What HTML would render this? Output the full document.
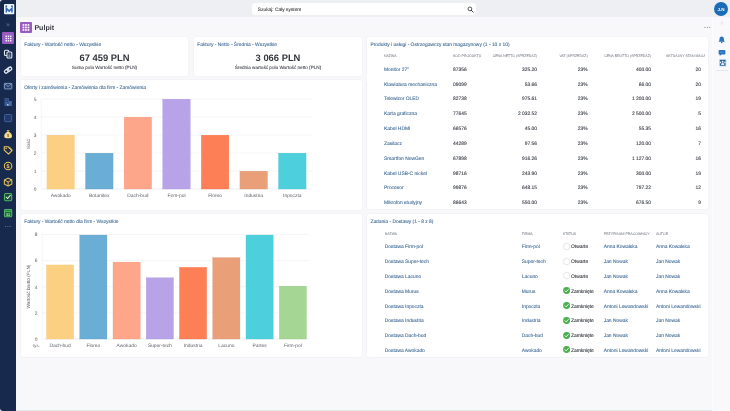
<!DOCTYPE html><html><head><meta charset="utf-8"><title>Pulpit</title><style>
*{box-sizing:border-box;margin:0;padding:0}
html,body{width:730px;height:411px;overflow:hidden;background:#f8f8fb;font-family:"Liberation Sans",sans-serif;}
body{position:relative;font-size:4.9px;color:#3a3f47;-webkit-text-size-adjust:none;text-rendering:geometricPrecision}
#root{position:absolute;left:0;top:0;width:730px;height:411px;will-change:transform;transform:translateZ(0)}
.abs{position:absolute}
.t{position:absolute;white-space:nowrap;line-height:1;}
.card{position:absolute;background:#fff;border-radius:2px;box-shadow:0 0 1.5px rgba(60,70,100,.10)}
.ttl{position:absolute;white-space:nowrap;line-height:1;color:#466f9a;font-size:4.9px}
.lnk{color:#466f9a}
.h{position:absolute;white-space:nowrap;line-height:1;color:#8a8f98;font-size:3.5px;text-transform:uppercase;letter-spacing:0}
.r{text-align:right}
svg{position:absolute;overflow:visible}
svg text{font-family:"Liberation Sans",sans-serif}
</style></head><body><div id="root">
<div class="abs" style="left:0;top:0;width:730px;height:17.2px;background:#edeff3"></div>
<div class="abs" style="left:712.3px;top:17.2px;width:17.7px;height:393.8px;background:#f9f9fc;border-left:.5px solid #fcfcfe"></div>
<div class="abs" style="left:0;top:0;width:16px;height:411px;background:#17294d;border-radius:3px 0 0 3px"></div>
<div class="abs" style="left:16px;top:410px;width:696px;height:1px;background:#e4e6eb"></div>
<div class="abs" style="left:251.5px;top:2.6px;width:224px;height:12.8px;background:#fff;border-radius:4px"></div>
<svg style="left:467px;top:5.8px" width="7" height="7" viewBox="0 0 7 7"><circle cx="2.9" cy="2.9" r="1.9" fill="none" stroke="#444" stroke-width="0.9"/><path d="M4.3 4.3 L6.2 6.2" stroke="#444" stroke-width="1" stroke-linecap="round"/></svg>
<div class="abs" style="left:713.9px;top:1.8px;width:14.2px;height:14.2px;border-radius:50%;background:#1b6cb5"></div>
<svg style="left:3.6px;top:3.6px" width="10.3" height="10.3" viewBox="0 0 10.3 10.3"><rect x="0" y="0" width="10.3" height="10.3" rx="1" fill="#eaf5fd"/><path d="M2.35 8.6V4.3L5.15 7.1L7.95 4.3V8.6" fill="none" stroke="#2f68b4" stroke-width="1.5" stroke-linejoin="miter"/><rect x="1.6" y="1.5" width="1.5" height="1.4" fill="#1f3d70"/><rect x="7.2" y="1.5" width="1.5" height="1.4" fill="#1f3d70"/></svg>
<svg style="left:5.6px;top:23.2px" width="4" height="3.4" viewBox="0 0 4 3.4"><path d="M.5 .5L1.7 1.7L.5 2.9M2.1 .5L3.3 1.7L2.1 2.9" fill="none" stroke="#8f98ae" stroke-width=".55"/></svg>
<svg style="left:19.9px;top:21.9px" width="12" height="11" viewBox="0 0 12 11"><rect width="12" height="11" rx="1" fill="#9a5cc0"/><rect x="2.6" y="2.1" width="1.7" height="1.7" fill="#fff"/><rect x="5.1" y="2.1" width="1.7" height="1.7" fill="#fff"/><rect x="7.6" y="2.1" width="1.7" height="1.7" fill="#fff"/><rect x="2.6" y="4.6" width="1.7" height="1.7" fill="#fff"/><rect x="5.1" y="4.6" width="1.7" height="1.7" fill="#fff"/><rect x="7.6" y="4.6" width="1.7" height="1.7" fill="#fff"/><rect x="2.6" y="7.1" width="1.7" height="1.7" fill="#fff"/><rect x="5.1" y="7.1" width="1.7" height="1.7" fill="#fff"/><rect x="7.6" y="7.1" width="1.7" height="1.7" fill="#fff"/></svg>
<svg style="left:703px;top:26px" width="9" height="3" viewBox="0 0 9 3"><circle cx="1.9" cy="1.4" r=".55" fill="#8a8d94"/><circle cx="4.3" cy="1.4" r=".55" fill="#8a8d94"/><circle cx="6.7" cy="1.4" r=".55" fill="#8a8d94"/></svg>
<div class="abs" style="left:2.4px;top:32.4px;width:11.2px;height:11.2px;border-radius:1.2px;background:#9a5cc0"></div>
<svg style="left:3.5px;top:33.5px" width="9" height="9" viewBox="0 0 9 9"><rect x="1.55" y="1.55" width="1.4" height="1.4" fill="#fff"/><rect x="3.8" y="1.55" width="1.4" height="1.4" fill="#fff"/><rect x="6.05" y="1.55" width="1.4" height="1.4" fill="#fff"/><rect x="1.55" y="3.8" width="1.4" height="1.4" fill="#fff"/><rect x="3.8" y="3.8" width="1.4" height="1.4" fill="#fff"/><rect x="6.05" y="3.8" width="1.4" height="1.4" fill="#fff"/><rect x="1.55" y="6.05" width="1.4" height="1.4" fill="#fff"/><rect x="3.8" y="6.05" width="1.4" height="1.4" fill="#fff"/><rect x="6.05" y="6.05" width="1.4" height="1.4" fill="#fff"/></svg>
<svg style="left:2.9000000000000004px;top:49.1px" width="10.2" height="10.2" viewBox="0 0 9 9"><rect x="1.3" y="1.1" width="3.8" height="4.6" rx=".9" fill="none" stroke="#e3e8f2" stroke-width=".95"/><rect x="3.5" y="2.6" width="4.3" height="5.4" rx=".9" fill="#17294d" stroke="#e3e8f2" stroke-width=".95"/><path d="M4.8 4.5h1.7M4.8 5.6h1.7M4.8 6.6h1.7" stroke="#e3e8f2" stroke-width=".5"/></svg>
<svg style="left:2.9000000000000004px;top:65.0px" width="10.2" height="10.2" viewBox="0 0 9 9"><g transform="rotate(-35 4.5 4.5)" fill="none" stroke="#e3e8f2" stroke-width="1.15"><rect x=".9" y="3.1" width="4.4" height="2.8" rx="1.4"/><rect x="3.7" y="3.1" width="4.4" height="2.8" rx="1.4"/></g></svg>
<svg style="left:2.9000000000000004px;top:80.9px" width="10.2" height="10.2" viewBox="0 0 9 9"><rect x="1.2" y="2.1" width="6.6" height="4.9" rx=".5" fill="#2a3f6b" stroke="#8aa6cf" stroke-width=".8"/><path d="M1.5 2.5 L4.5 4.9 L7.5 2.5" fill="none" stroke="#8aa6cf" stroke-width=".7"/></svg>
<svg style="left:2.9000000000000004px;top:96.9px" width="10.2" height="10.2" viewBox="0 0 9 9"><rect x="1.3" y="1" width="3.9" height="7" fill="#3b5c97"/><rect x="5.2" y="3.6" width="2.6" height="4.4" fill="#4567a4"/><rect x="2.1" y="2" width=".8" height=".8" fill="#1c315c"/><rect x="3.5" y="2" width=".8" height=".8" fill="#1c315c"/><rect x="2.1" y="3.6" width=".8" height=".8" fill="#1c315c"/><rect x="3.5" y="3.6" width=".8" height=".8" fill="#1c315c"/><rect x="3.6" y="6.3" width="1.3" height="1.2" fill="#cfd9ea"/></svg>
<svg style="left:2.9000000000000004px;top:112.80000000000001px" width="10.2" height="10.2" viewBox="0 0 9 9"><rect x="1.3" y="1.3" width="6.4" height="6.4" rx="1" fill="#22396b" stroke="#4866a0" stroke-width=".8"/></svg>
<svg style="left:2.9000000000000004px;top:128.70000000000002px" width="10.2" height="10.2" viewBox="0 0 9 9"><path d="M3.2 1.1h2.6l-.6 1.4h-1.4z" fill="#ecc760"/><path d="M3.5 2.7h2c1.7 1 2.6 2.6 2.4 4c-.1.9-.8 1.4-1.7 1.4H2.8c-.9 0-1.6-.5-1.7-1.4c-.2-1.4.7-3 2.4-4z" fill="#f3dc8c"/><path d="M4.5 4.3v2.7M3.8 5.1h1.1M4.1 6.3h1.1" stroke="#5d4a12" stroke-width=".55"/></svg>
<svg style="left:2.9000000000000004px;top:144.6px" width="10.2" height="10.2" viewBox="0 0 9 9"><path d="M1.1 1.5h3.3l3.5 3.5l-3 3L1.1 4.6z" fill="#3a3a3a" fill-opacity=".25" stroke="#ecc760" stroke-width=".95" stroke-linejoin="round"/><circle cx="2.8" cy="3.1" r=".65" fill="#ecc760"/><path d="M5.5 1.5l3 3.2" fill="none" stroke="#ecc760" stroke-width=".7"/></svg>
<svg style="left:2.9000000000000004px;top:160.5px" width="10.2" height="10.2" viewBox="0 0 9 9"><circle cx="4.5" cy="4.5" r="3.3" fill="#3a3520" fill-opacity=".35" stroke="#ecc760" stroke-width=".9"/><text x="4.5" y="6.2" font-size="4.8" font-weight="bold" text-anchor="middle" fill="#ecc760">$</text></svg>
<svg style="left:2.9000000000000004px;top:176.5px" width="10.2" height="10.2" viewBox="0 0 9 9"><path d="M4.5 1L7.8 2.7V6.3L4.5 8L1.2 6.3V2.7z" fill="#3a3520" fill-opacity=".3" stroke="#ecc760" stroke-width=".9" stroke-linejoin="round"/><path d="M1.4 2.8L4.5 4.4L7.6 2.8M4.5 4.4V7.8" fill="none" stroke="#ecc760" stroke-width=".8"/></svg>
<svg style="left:2.9000000000000004px;top:192.4px" width="10.2" height="10.2" viewBox="0 0 9 9"><rect x="1.3" y="1.3" width="6.4" height="6.4" rx="1.1" fill="#1d4a3c" stroke="#4db564" stroke-width=".95"/><path d="M2.8 4.5L4.1 5.8L6.4 3" fill="none" stroke="#d6efd9" stroke-width=".95" stroke-linecap="round"/></svg>
<svg style="left:2.9000000000000004px;top:208.3px" width="10.2" height="10.2" viewBox="0 0 9 9"><rect x="1.3" y="1.4" width="6.4" height="6.4" rx=".8" fill="#1f6b3a" stroke="#4db564" stroke-width=".95"/><path d="M1.3 2.9h6.4" stroke="#4db564" stroke-width="1"/><path d="M3 .8v1.2M6 .8v1.2" stroke="#4db564" stroke-width=".8"/><text x="4.5" y="6.9" font-size="3.4" font-weight="bold" text-anchor="middle" fill="#9fe0ab">31</text></svg>
<svg style="left:4px;top:225.4px" width="8" height="3" viewBox="0 0 8 3"><circle cx="1.6" cy="1.5" r=".55" fill="#7482a4"/><circle cx="3.9" cy="1.5" r=".55" fill="#7482a4"/><circle cx="6.2" cy="1.5" r=".55" fill="#7482a4"/></svg>
<svg style="left:719.6px;top:21.2px" width="3.6" height="4" viewBox="0 0 3.6 4"><path d="M.5 1.7L1.8 .5L3.1 1.7M.5 3.4L1.8 2.2L3.1 3.4" fill="none" stroke="#c9cdd6" stroke-width=".5"/></svg>
<svg style="left:718.3px;top:36.3px" width="7.4" height="7.4" viewBox="0 0 9 9"><path d="M4.5 .6c-1.7 0-2.7 1.2-2.7 2.9v1.7L.9 6.5v.6h7.2v-.6l-.9-1.3V3.5c0-1.7-1-2.9-2.7-2.9z" fill="#2b74c0"/><circle cx="4.5" cy="7.8" r=".9" fill="#2b74c0"/></svg>
<svg style="left:718px;top:48.5px" width="8" height="8" viewBox="0 0 9 9"><path d="M1.6 1.2h5.8a.9.9 0 0 1 .9.9v3.2a.9.9 0 0 1-.9.9H4l-2 1.8V6.2h-.4a.9.9 0 0 1-.9-.9V2.1a.9.9 0 0 1 .9-.9z" fill="#2b74c0"/><path d="M2.3 3.5h4.6" stroke="#a9cbee" stroke-width=".55" stroke-dasharray=".9 .5"/></svg>
<svg style="left:718.6px;top:59px" width="7.4" height="7.6" viewBox="0 0 7.4 7.6"><rect width="7.4" height="7.6" rx=".8" fill="#c5daf0"/><rect x=".9" y=".9" width="5.6" height="5.8" fill="#2a62a8"/><rect x=".9" y="2.7" width="1.2" height="1.6" fill="#eef5fc"/><rect x="5.3" y="2.7" width="1.2" height="1.6" fill="#eef5fc"/><circle cx="3.7" cy="2.7" r=".95" fill="#dfeaf7"/><path d="M2.1 6c0-1.4.7-1.9 1.6-1.9s1.6.5 1.6 1.9z" fill="#dfeaf7"/></svg>
<div class="abs" style="left:715.5px;top:70.2px;width:12px;height:.5px;background:#e6e9ee"></div>
<div class="card" style="left:21px;top:37px;width:167px;height:39px"></div>
<div class="card" style="left:194px;top:37px;width:168px;height:39px"></div>
<div class="card" style="left:21px;top:80.3px;width:341px;height:129.5px"></div>
<svg style="left:0;top:0" width="730" height="411" viewBox="0 0 730 411" text-rendering="geometricPrecision"><path d="M41.2 189.00H312" stroke="#d5d8de" stroke-width=".5"/><text x="36.6" y="190.80" font-size="4.9" text-anchor="end" fill="#5c6068">0</text><path d="M41.2 171.00H312" stroke="#e9ebef" stroke-width=".5"/><text x="36.6" y="172.80" font-size="4.9" text-anchor="end" fill="#5c6068">1</text><path d="M41.2 153.00H312" stroke="#e9ebef" stroke-width=".5"/><text x="36.6" y="154.80" font-size="4.9" text-anchor="end" fill="#5c6068">2</text><path d="M41.2 135.00H312" stroke="#e9ebef" stroke-width=".5"/><text x="36.6" y="136.80" font-size="4.9" text-anchor="end" fill="#5c6068">3</text><path d="M41.2 117.00H312" stroke="#e9ebef" stroke-width=".5"/><text x="36.6" y="118.80" font-size="4.9" text-anchor="end" fill="#5c6068">4</text><path d="M41.2 99.00H312" stroke="#e9ebef" stroke-width=".5"/><text x="36.6" y="100.80" font-size="4.9" text-anchor="end" fill="#5c6068">5</text><path d="M41.2 99.00V189" stroke="#e6e8ec" stroke-width=".5"/><rect x="46.95" y="135.15" width="27.5" height="53.85" fill="#fcd083" stroke="#f3c06a" stroke-width=".3"/><text x="60.70" y="196.90" font-size="4.9" text-anchor="middle" fill="#5c6068">Awokado</text><rect x="85.55" y="153.15" width="27.5" height="35.85" fill="#6aaed6" stroke="#5a9cc6" stroke-width=".3"/><text x="99.30" y="196.90" font-size="4.9" text-anchor="middle" fill="#5c6068">Botanitex</text><rect x="124.15" y="117.15" width="27.5" height="71.85" fill="#fda68a" stroke="#f59478" stroke-width=".3"/><text x="137.90" y="196.90" font-size="4.9" text-anchor="middle" fill="#5c6068">Dach-bud</text><rect x="162.75" y="99.15" width="27.5" height="89.85" fill="#b9a3e8" stroke="#a892de" stroke-width=".3"/><text x="176.50" y="196.90" font-size="4.9" text-anchor="middle" fill="#5c6068">Firm-pol</text><rect x="201.35" y="135.15" width="27.5" height="53.85" fill="#fd7f56" stroke="#f26e44" stroke-width=".3"/><text x="215.10" y="196.90" font-size="4.9" text-anchor="middle" fill="#5c6068">Floreo</text><rect x="239.95" y="171.15" width="27.5" height="17.85" fill="#e9a078" stroke="#dc9068" stroke-width=".3"/><text x="253.70" y="196.90" font-size="4.9" text-anchor="middle" fill="#5c6068">Industria</text><rect x="278.55" y="153.15" width="27.5" height="35.85" fill="#4dd0db" stroke="#3cc2ce" stroke-width=".3"/><text x="292.30" y="196.90" font-size="4.9" text-anchor="middle" fill="#5c6068">Inpoczta</text><text transform="translate(30.4 144) rotate(-90)" font-size="4.7" text-anchor="middle" fill="#5c6068">Ilość</text></svg>
<div class="card" style="left:21px;top:214.2px;width:341px;height:142.8px"></div>
<svg style="left:0;top:0" width="730" height="411" viewBox="0 0 730 411" text-rendering="geometricPrecision"><path d="M42.2 339.00H309" stroke="#d5d8de" stroke-width=".5"/><text x="37.6" y="340.80" font-size="4.9" text-anchor="end" fill="#5c6068">0</text><path d="M42.2 312.88H309" stroke="#e9ebef" stroke-width=".5"/><text x="37.6" y="314.68" font-size="4.9" text-anchor="end" fill="#5c6068">2</text><path d="M42.2 286.76H309" stroke="#e9ebef" stroke-width=".5"/><text x="37.6" y="288.56" font-size="4.9" text-anchor="end" fill="#5c6068">4</text><path d="M42.2 260.64H309" stroke="#e9ebef" stroke-width=".5"/><text x="37.6" y="262.44" font-size="4.9" text-anchor="end" fill="#5c6068">6</text><path d="M42.2 234.52H309" stroke="#e9ebef" stroke-width=".5"/><text x="37.6" y="236.32" font-size="4.9" text-anchor="end" fill="#5c6068">8</text><path d="M42.2 234.52V339" stroke="#e6e8ec" stroke-width=".5"/><rect x="46.50" y="264.97" width="27.2" height="74.03" fill="#fcd083" stroke="#f3c06a" stroke-width=".3"/><text x="60.10" y="346.90" font-size="4.9" text-anchor="middle" fill="#5c6068">Dach-bud</text><rect x="79.75" y="235.06" width="27.2" height="103.94" fill="#6aaed6" stroke="#5a9cc6" stroke-width=".3"/><text x="93.35" y="346.90" font-size="4.9" text-anchor="middle" fill="#5c6068">Floreo</text><rect x="113.00" y="262.10" width="27.2" height="76.90" fill="#fda68a" stroke="#f59478" stroke-width=".3"/><text x="126.60" y="346.90" font-size="4.9" text-anchor="middle" fill="#5c6068">Awokado</text><rect x="146.25" y="277.77" width="27.2" height="61.23" fill="#b9a3e8" stroke="#a892de" stroke-width=".3"/><text x="159.85" y="346.90" font-size="4.9" text-anchor="middle" fill="#5c6068">Super-tech</text><rect x="179.50" y="267.32" width="27.2" height="71.68" fill="#fd7f56" stroke="#f26e44" stroke-width=".3"/><text x="193.10" y="346.90" font-size="4.9" text-anchor="middle" fill="#5c6068">Industria</text><rect x="212.75" y="257.66" width="27.2" height="81.34" fill="#e9a078" stroke="#dc9068" stroke-width=".3"/><text x="226.35" y="346.90" font-size="4.9" text-anchor="middle" fill="#5c6068">Lacuno</text><rect x="246.00" y="235.06" width="27.2" height="103.94" fill="#4dd0db" stroke="#3cc2ce" stroke-width=".3"/><text x="259.60" y="346.90" font-size="4.9" text-anchor="middle" fill="#5c6068">Partes</text><rect x="279.25" y="286.13" width="27.2" height="52.87" fill="#a5d693" stroke="#93c980" stroke-width=".3"/><text x="292.85" y="346.90" font-size="4.9" text-anchor="middle" fill="#5c6068">Firm-pol</text><text transform="translate(29.8 286.5) rotate(-90)" font-size="4.7" text-anchor="middle" fill="#5c6068">Wartość brutto (PLN)</text><text x="36.4" y="346.9" font-size="4.2" text-anchor="middle" fill="#5c6068">tys.</text></svg>
<div class="card" style="left:367px;top:37px;width:341px;height:172.3px;overflow:hidden"></div>
<svg style="left:666.3px;top:51.5px;overflow:hidden" width="38.8" height="8" viewBox="0 0 38.8 8" text-rendering="geometricPrecision"><text x="0" y="5.26" font-size="3.5" fill="#8a8f98" stroke="#8a8f98" stroke-width="0.077">AKTUALNY STAN MAGAZYNOWY</text></svg>
<div class="card" style="left:367px;top:214.2px;width:341px;height:142.8px"></div>
<svg style="left:562.6px;top:242.80px" width="7.2" height="7.2" viewBox="0 0 7.2 7.2"><circle cx="3.6" cy="3.6" r="3.2" fill="#fff" stroke="#c9ccd2" stroke-width=".5"/></svg>
<svg style="left:562.6px;top:257.60px" width="7.2" height="7.2" viewBox="0 0 7.2 7.2"><circle cx="3.6" cy="3.6" r="3.2" fill="#fff" stroke="#c9ccd2" stroke-width=".5"/></svg>
<svg style="left:562.6px;top:272.40px" width="7.2" height="7.2" viewBox="0 0 7.2 7.2"><circle cx="3.6" cy="3.6" r="3.2" fill="#fff" stroke="#c9ccd2" stroke-width=".5"/></svg>
<svg style="left:562.6px;top:287.20px" width="7.2" height="7.2" viewBox="0 0 7.2 7.2"><circle cx="3.6" cy="3.6" r="3.5" fill="#4caf50"/><path d="M2 3.7L3.2 4.9L5.3 2.5" fill="none" stroke="#fff" stroke-width=".9" stroke-linecap="round" stroke-linejoin="round"/></svg>
<svg style="left:562.6px;top:302.00px" width="7.2" height="7.2" viewBox="0 0 7.2 7.2"><circle cx="3.6" cy="3.6" r="3.5" fill="#4caf50"/><path d="M2 3.7L3.2 4.9L5.3 2.5" fill="none" stroke="#fff" stroke-width=".9" stroke-linecap="round" stroke-linejoin="round"/></svg>
<svg style="left:562.6px;top:316.80px" width="7.2" height="7.2" viewBox="0 0 7.2 7.2"><circle cx="3.6" cy="3.6" r="3.5" fill="#4caf50"/><path d="M2 3.7L3.2 4.9L5.3 2.5" fill="none" stroke="#fff" stroke-width=".9" stroke-linecap="round" stroke-linejoin="round"/></svg>
<svg style="left:562.6px;top:331.60px" width="7.2" height="7.2" viewBox="0 0 7.2 7.2"><circle cx="3.6" cy="3.6" r="3.5" fill="#4caf50"/><path d="M2 3.7L3.2 4.9L5.3 2.5" fill="none" stroke="#fff" stroke-width=".9" stroke-linecap="round" stroke-linejoin="round"/></svg>
<svg style="left:562.6px;top:346.40px" width="7.2" height="7.2" viewBox="0 0 7.2 7.2"><circle cx="3.6" cy="3.6" r="3.5" fill="#4caf50"/><path d="M2 3.7L3.2 4.9L5.3 2.5" fill="none" stroke="#fff" stroke-width=".9" stroke-linecap="round" stroke-linejoin="round"/></svg>
<svg style="left:0;top:0" width="730" height="411" viewBox="0 0 730 411" text-rendering="geometricPrecision"><text x="257.80" y="10.84" font-size="4.85" fill="#444" stroke="#444" stroke-width="0.107">Szukaj: Cały system</text><text x="721.00" y="10.52" font-size="4.5" fill="#fff" font-weight="bold" text-anchor="middle">J.N</text><text x="34.40" y="29.76" font-size="7.1" fill="#3a3d44" font-weight="bold">Pulpit</text><text x="24.20" y="45.86" font-size="4.9" fill="#466f9a" stroke="#466f9a" stroke-width="0.108">Faktury - Wartość netto - Wszystkie</text><text x="104.50" y="61.48" font-size="9.4" fill="#33363c" font-weight="bold" text-anchor="middle">67 459 PLN</text><text x="104.50" y="69.36" font-size="4.65" fill="#4a4e56" stroke="#4a4e56" stroke-width="0.102" text-anchor="middle">Suma pola Wartość netto (PLN)</text><text x="197.20" y="45.86" font-size="4.9" fill="#466f9a" stroke="#466f9a" stroke-width="0.108">Faktury - Netto - Średnia - Wszystkie</text><text x="278.00" y="61.48" font-size="9.4" fill="#33363c" font-weight="bold" text-anchor="middle">3 066 PLN</text><text x="278.00" y="69.36" font-size="4.65" fill="#4a4e56" stroke="#4a4e56" stroke-width="0.102" text-anchor="middle">Średnia wartość pola Wartość netto (PLN)</text><text x="24.20" y="89.46" font-size="4.9" fill="#466f9a" stroke="#466f9a" stroke-width="0.108">Oferty i zamówienia - Zamówienia dla firm - Zamówienia</text><text x="24.20" y="223.26" font-size="4.9" fill="#466f9a" stroke="#466f9a" stroke-width="0.108">Faktury - Wartość netto dla firm - Wszystkie</text><text x="370.40" y="46.06" font-size="4.9" fill="#466f9a" stroke="#466f9a" stroke-width="0.108">Produkty i usługi - Ostrzegawczy stan magazynowy (1 - 10 z 10)</text><text x="384.00" y="56.76" font-size="3.5" fill="#8a8f98" stroke="#8a8f98" stroke-width="0.077">NAZWA</text><text x="453.00" y="56.76" font-size="3.5" fill="#8a8f98" stroke="#8a8f98" stroke-width="0.077">KOD PRODUKTU</text><text x="537.00" y="56.76" font-size="3.5" fill="#8a8f98" stroke="#8a8f98" stroke-width="0.077" text-anchor="end">CENA NETTO (SPRZEDAŻ)</text><text x="587.60" y="56.76" font-size="3.5" fill="#8a8f98" stroke="#8a8f98" stroke-width="0.077" text-anchor="end">VAT (SPRZEDAŻ)</text><text x="651.00" y="56.76" font-size="3.5" fill="#8a8f98" stroke="#8a8f98" stroke-width="0.077" text-anchor="end">CENA BRUTTO (SPRZEDAŻ)</text><text x="384.00" y="70.76" font-size="4.9" fill="#466f9a" stroke="#466f9a" stroke-width="0.108">Monitor 27"</text><text x="453.00" y="70.76" font-size="4.9" fill="#3a3f47" stroke="#3a3f47" stroke-width="0.108">87356</text><text x="537.00" y="70.76" font-size="4.9" fill="#3a3f47" stroke="#3a3f47" stroke-width="0.108" text-anchor="end">325.20</text><text x="587.60" y="70.76" font-size="4.9" fill="#3a3f47" stroke="#3a3f47" stroke-width="0.108" text-anchor="end">23%</text><text x="651.00" y="70.76" font-size="4.9" fill="#3a3f47" stroke="#3a3f47" stroke-width="0.108" text-anchor="end">400.00</text><text x="701.00" y="70.76" font-size="4.9" fill="#3a3f47" stroke="#3a3f47" stroke-width="0.108" text-anchor="end">20</text><text x="384.00" y="85.59" font-size="4.9" fill="#466f9a" stroke="#466f9a" stroke-width="0.108">Klawiatura mechaniczna</text><text x="453.00" y="85.59" font-size="4.9" fill="#3a3f47" stroke="#3a3f47" stroke-width="0.108">09099</text><text x="537.00" y="85.59" font-size="4.9" fill="#3a3f47" stroke="#3a3f47" stroke-width="0.108" text-anchor="end">53.66</text><text x="587.60" y="85.59" font-size="4.9" fill="#3a3f47" stroke="#3a3f47" stroke-width="0.108" text-anchor="end">23%</text><text x="651.00" y="85.59" font-size="4.9" fill="#3a3f47" stroke="#3a3f47" stroke-width="0.108" text-anchor="end">66.00</text><text x="701.00" y="85.59" font-size="4.9" fill="#3a3f47" stroke="#3a3f47" stroke-width="0.108" text-anchor="end">20</text><text x="384.00" y="100.42" font-size="4.9" fill="#466f9a" stroke="#466f9a" stroke-width="0.108">Telewizor OLED</text><text x="453.00" y="100.42" font-size="4.9" fill="#3a3f47" stroke="#3a3f47" stroke-width="0.108">82738</text><text x="537.00" y="100.42" font-size="4.9" fill="#3a3f47" stroke="#3a3f47" stroke-width="0.108" text-anchor="end">975.61</text><text x="587.60" y="100.42" font-size="4.9" fill="#3a3f47" stroke="#3a3f47" stroke-width="0.108" text-anchor="end">23%</text><text x="651.00" y="100.42" font-size="4.9" fill="#3a3f47" stroke="#3a3f47" stroke-width="0.108" text-anchor="end">1 200.00</text><text x="701.00" y="100.42" font-size="4.9" fill="#3a3f47" stroke="#3a3f47" stroke-width="0.108" text-anchor="end">19</text><text x="384.00" y="115.25" font-size="4.9" fill="#466f9a" stroke="#466f9a" stroke-width="0.108">Karta graficzna</text><text x="453.00" y="115.25" font-size="4.9" fill="#3a3f47" stroke="#3a3f47" stroke-width="0.108">77645</text><text x="537.00" y="115.25" font-size="4.9" fill="#3a3f47" stroke="#3a3f47" stroke-width="0.108" text-anchor="end">2 032.52</text><text x="587.60" y="115.25" font-size="4.9" fill="#3a3f47" stroke="#3a3f47" stroke-width="0.108" text-anchor="end">23%</text><text x="651.00" y="115.25" font-size="4.9" fill="#3a3f47" stroke="#3a3f47" stroke-width="0.108" text-anchor="end">2 500.00</text><text x="701.00" y="115.25" font-size="4.9" fill="#3a3f47" stroke="#3a3f47" stroke-width="0.108" text-anchor="end">5</text><text x="384.00" y="130.08" font-size="4.9" fill="#466f9a" stroke="#466f9a" stroke-width="0.108">Kabel HDMI</text><text x="453.00" y="130.08" font-size="4.9" fill="#3a3f47" stroke="#3a3f47" stroke-width="0.108">66576</text><text x="537.00" y="130.08" font-size="4.9" fill="#3a3f47" stroke="#3a3f47" stroke-width="0.108" text-anchor="end">45.00</text><text x="587.60" y="130.08" font-size="4.9" fill="#3a3f47" stroke="#3a3f47" stroke-width="0.108" text-anchor="end">23%</text><text x="651.00" y="130.08" font-size="4.9" fill="#3a3f47" stroke="#3a3f47" stroke-width="0.108" text-anchor="end">55.35</text><text x="701.00" y="130.08" font-size="4.9" fill="#3a3f47" stroke="#3a3f47" stroke-width="0.108" text-anchor="end">16</text><text x="384.00" y="144.91" font-size="4.9" fill="#466f9a" stroke="#466f9a" stroke-width="0.108">Zasilacz</text><text x="453.00" y="144.91" font-size="4.9" fill="#3a3f47" stroke="#3a3f47" stroke-width="0.108">44289</text><text x="537.00" y="144.91" font-size="4.9" fill="#3a3f47" stroke="#3a3f47" stroke-width="0.108" text-anchor="end">97.56</text><text x="587.60" y="144.91" font-size="4.9" fill="#3a3f47" stroke="#3a3f47" stroke-width="0.108" text-anchor="end">23%</text><text x="651.00" y="144.91" font-size="4.9" fill="#3a3f47" stroke="#3a3f47" stroke-width="0.108" text-anchor="end">120.00</text><text x="701.00" y="144.91" font-size="4.9" fill="#3a3f47" stroke="#3a3f47" stroke-width="0.108" text-anchor="end">7</text><text x="384.00" y="159.74" font-size="4.9" fill="#466f9a" stroke="#466f9a" stroke-width="0.108">Smartfon NowGen</text><text x="453.00" y="159.74" font-size="4.9" fill="#3a3f47" stroke="#3a3f47" stroke-width="0.108">67898</text><text x="537.00" y="159.74" font-size="4.9" fill="#3a3f47" stroke="#3a3f47" stroke-width="0.108" text-anchor="end">916.26</text><text x="587.60" y="159.74" font-size="4.9" fill="#3a3f47" stroke="#3a3f47" stroke-width="0.108" text-anchor="end">23%</text><text x="651.00" y="159.74" font-size="4.9" fill="#3a3f47" stroke="#3a3f47" stroke-width="0.108" text-anchor="end">1 127.00</text><text x="701.00" y="159.74" font-size="4.9" fill="#3a3f47" stroke="#3a3f47" stroke-width="0.108" text-anchor="end">16</text><text x="384.00" y="174.57" font-size="4.9" fill="#466f9a" stroke="#466f9a" stroke-width="0.108">Kabel USB-C nickel</text><text x="453.00" y="174.57" font-size="4.9" fill="#3a3f47" stroke="#3a3f47" stroke-width="0.108">98716</text><text x="537.00" y="174.57" font-size="4.9" fill="#3a3f47" stroke="#3a3f47" stroke-width="0.108" text-anchor="end">243.90</text><text x="587.60" y="174.57" font-size="4.9" fill="#3a3f47" stroke="#3a3f47" stroke-width="0.108" text-anchor="end">23%</text><text x="651.00" y="174.57" font-size="4.9" fill="#3a3f47" stroke="#3a3f47" stroke-width="0.108" text-anchor="end">300.00</text><text x="701.00" y="174.57" font-size="4.9" fill="#3a3f47" stroke="#3a3f47" stroke-width="0.108" text-anchor="end">19</text><text x="384.00" y="189.40" font-size="4.9" fill="#466f9a" stroke="#466f9a" stroke-width="0.108">Procesor</text><text x="453.00" y="189.40" font-size="4.9" fill="#3a3f47" stroke="#3a3f47" stroke-width="0.108">99876</text><text x="537.00" y="189.40" font-size="4.9" fill="#3a3f47" stroke="#3a3f47" stroke-width="0.108" text-anchor="end">648.15</text><text x="587.60" y="189.40" font-size="4.9" fill="#3a3f47" stroke="#3a3f47" stroke-width="0.108" text-anchor="end">23%</text><text x="651.00" y="189.40" font-size="4.9" fill="#3a3f47" stroke="#3a3f47" stroke-width="0.108" text-anchor="end">797.22</text><text x="701.00" y="189.40" font-size="4.9" fill="#3a3f47" stroke="#3a3f47" stroke-width="0.108" text-anchor="end">12</text><text x="384.00" y="204.23" font-size="4.9" fill="#466f9a" stroke="#466f9a" stroke-width="0.108">Mikrofon studyjny</text><text x="453.00" y="204.23" font-size="4.9" fill="#3a3f47" stroke="#3a3f47" stroke-width="0.108">86643</text><text x="537.00" y="204.23" font-size="4.9" fill="#3a3f47" stroke="#3a3f47" stroke-width="0.108" text-anchor="end">550.00</text><text x="587.60" y="204.23" font-size="4.9" fill="#3a3f47" stroke="#3a3f47" stroke-width="0.108" text-anchor="end">23%</text><text x="651.00" y="204.23" font-size="4.9" fill="#3a3f47" stroke="#3a3f47" stroke-width="0.108" text-anchor="end">676.50</text><text x="701.00" y="204.23" font-size="4.9" fill="#3a3f47" stroke="#3a3f47" stroke-width="0.108" text-anchor="end">9</text><text x="370.40" y="223.26" font-size="4.9" fill="#466f9a" stroke="#466f9a" stroke-width="0.108">Zadania - Dostawy (1 - 8 z 8)</text><text x="384.70" y="235.16" font-size="3.5" fill="#8a8f98" stroke="#8a8f98" stroke-width="0.077">NAZWA</text><text x="521.80" y="235.16" font-size="3.5" fill="#8a8f98" stroke="#8a8f98" stroke-width="0.077">FIRMA</text><text x="562.80" y="235.16" font-size="3.5" fill="#8a8f98" stroke="#8a8f98" stroke-width="0.077">STATUS</text><text x="603.70" y="235.16" font-size="3.5" fill="#8a8f98" stroke="#8a8f98" stroke-width="0.077">PRZYPISANI PRACOWNICY</text><text x="656.00" y="235.16" font-size="3.5" fill="#8a8f98" stroke="#8a8f98" stroke-width="0.077">AUTOR</text><text x="384.70" y="248.46" font-size="4.9" fill="#466f9a" stroke="#466f9a" stroke-width="0.108">Dostawa Firm-pol</text><text x="521.80" y="248.46" font-size="4.9" fill="#466f9a" stroke="#466f9a" stroke-width="0.108">Firm-pol</text><text x="571.00" y="248.46" font-size="4.9" fill="#33363c" stroke="#33363c" stroke-width="0.108">Otwarte</text><text x="603.70" y="248.46" font-size="4.9" fill="#466f9a" stroke="#466f9a" stroke-width="0.108">Anna Kowalska</text><text x="656.00" y="248.46" font-size="4.9" fill="#466f9a" stroke="#466f9a" stroke-width="0.108">Anna Kowalska</text><text x="384.70" y="263.26" font-size="4.9" fill="#466f9a" stroke="#466f9a" stroke-width="0.108">Dostawa Super-tech</text><text x="521.80" y="263.26" font-size="4.9" fill="#466f9a" stroke="#466f9a" stroke-width="0.108">Super-tech</text><text x="571.00" y="263.26" font-size="4.9" fill="#33363c" stroke="#33363c" stroke-width="0.108">Otwarte</text><text x="603.70" y="263.26" font-size="4.9" fill="#466f9a" stroke="#466f9a" stroke-width="0.108">Jan Nowak</text><text x="656.00" y="263.26" font-size="4.9" fill="#466f9a" stroke="#466f9a" stroke-width="0.108">Jan Nowak</text><text x="384.70" y="278.06" font-size="4.9" fill="#466f9a" stroke="#466f9a" stroke-width="0.108">Dostawa Lacuno</text><text x="521.80" y="278.06" font-size="4.9" fill="#466f9a" stroke="#466f9a" stroke-width="0.108">Lacuno</text><text x="571.00" y="278.06" font-size="4.9" fill="#33363c" stroke="#33363c" stroke-width="0.108">Otwarte</text><text x="603.70" y="278.06" font-size="4.9" fill="#466f9a" stroke="#466f9a" stroke-width="0.108">Jan Nowak</text><text x="656.00" y="278.06" font-size="4.9" fill="#466f9a" stroke="#466f9a" stroke-width="0.108">Jan Nowak</text><text x="384.70" y="292.86" font-size="4.9" fill="#466f9a" stroke="#466f9a" stroke-width="0.108">Dostawa Murus</text><text x="521.80" y="292.86" font-size="4.9" fill="#466f9a" stroke="#466f9a" stroke-width="0.108">Murus</text><text x="571.00" y="292.86" font-size="4.9" fill="#33363c" stroke="#33363c" stroke-width="0.108">Zamknięte</text><text x="603.70" y="292.86" font-size="4.9" fill="#466f9a" stroke="#466f9a" stroke-width="0.108">Anna Kowalska</text><text x="656.00" y="292.86" font-size="4.9" fill="#466f9a" stroke="#466f9a" stroke-width="0.108">Anna Kowalska</text><text x="384.70" y="307.66" font-size="4.9" fill="#466f9a" stroke="#466f9a" stroke-width="0.108">Dostawa Inpoczta</text><text x="521.80" y="307.66" font-size="4.9" fill="#466f9a" stroke="#466f9a" stroke-width="0.108">Inpoczta</text><text x="571.00" y="307.66" font-size="4.9" fill="#33363c" stroke="#33363c" stroke-width="0.108">Zamknięte</text><text x="603.70" y="307.66" font-size="4.9" fill="#466f9a" stroke="#466f9a" stroke-width="0.108">Antoni Lewandowski</text><text x="656.00" y="307.66" font-size="4.9" fill="#466f9a" stroke="#466f9a" stroke-width="0.108">Antoni Lewandowski</text><text x="384.70" y="322.46" font-size="4.9" fill="#466f9a" stroke="#466f9a" stroke-width="0.108">Dostawa Industria</text><text x="521.80" y="322.46" font-size="4.9" fill="#466f9a" stroke="#466f9a" stroke-width="0.108">Industria</text><text x="571.00" y="322.46" font-size="4.9" fill="#33363c" stroke="#33363c" stroke-width="0.108">Zamknięte</text><text x="603.70" y="322.46" font-size="4.9" fill="#466f9a" stroke="#466f9a" stroke-width="0.108">Jan Nowak</text><text x="656.00" y="322.46" font-size="4.9" fill="#466f9a" stroke="#466f9a" stroke-width="0.108">Jan Nowak</text><text x="384.70" y="337.26" font-size="4.9" fill="#466f9a" stroke="#466f9a" stroke-width="0.108">Dostawa Dach-bud</text><text x="521.80" y="337.26" font-size="4.9" fill="#466f9a" stroke="#466f9a" stroke-width="0.108">Dach-bud</text><text x="571.00" y="337.26" font-size="4.9" fill="#33363c" stroke="#33363c" stroke-width="0.108">Zamknięte</text><text x="603.70" y="337.26" font-size="4.9" fill="#466f9a" stroke="#466f9a" stroke-width="0.108">Jan Nowak</text><text x="656.00" y="337.26" font-size="4.9" fill="#466f9a" stroke="#466f9a" stroke-width="0.108">Jan Nowak</text><text x="384.70" y="352.06" font-size="4.9" fill="#466f9a" stroke="#466f9a" stroke-width="0.108">Dostawa Awokado</text><text x="521.80" y="352.06" font-size="4.9" fill="#466f9a" stroke="#466f9a" stroke-width="0.108">Awokado</text><text x="571.00" y="352.06" font-size="4.9" fill="#33363c" stroke="#33363c" stroke-width="0.108">Zamknięte</text><text x="603.70" y="352.06" font-size="4.9" fill="#466f9a" stroke="#466f9a" stroke-width="0.108">Antoni Lewandowski</text><text x="656.00" y="352.06" font-size="4.9" fill="#466f9a" stroke="#466f9a" stroke-width="0.108">Antoni Lewandowski</text></svg>
</div></body></html>
